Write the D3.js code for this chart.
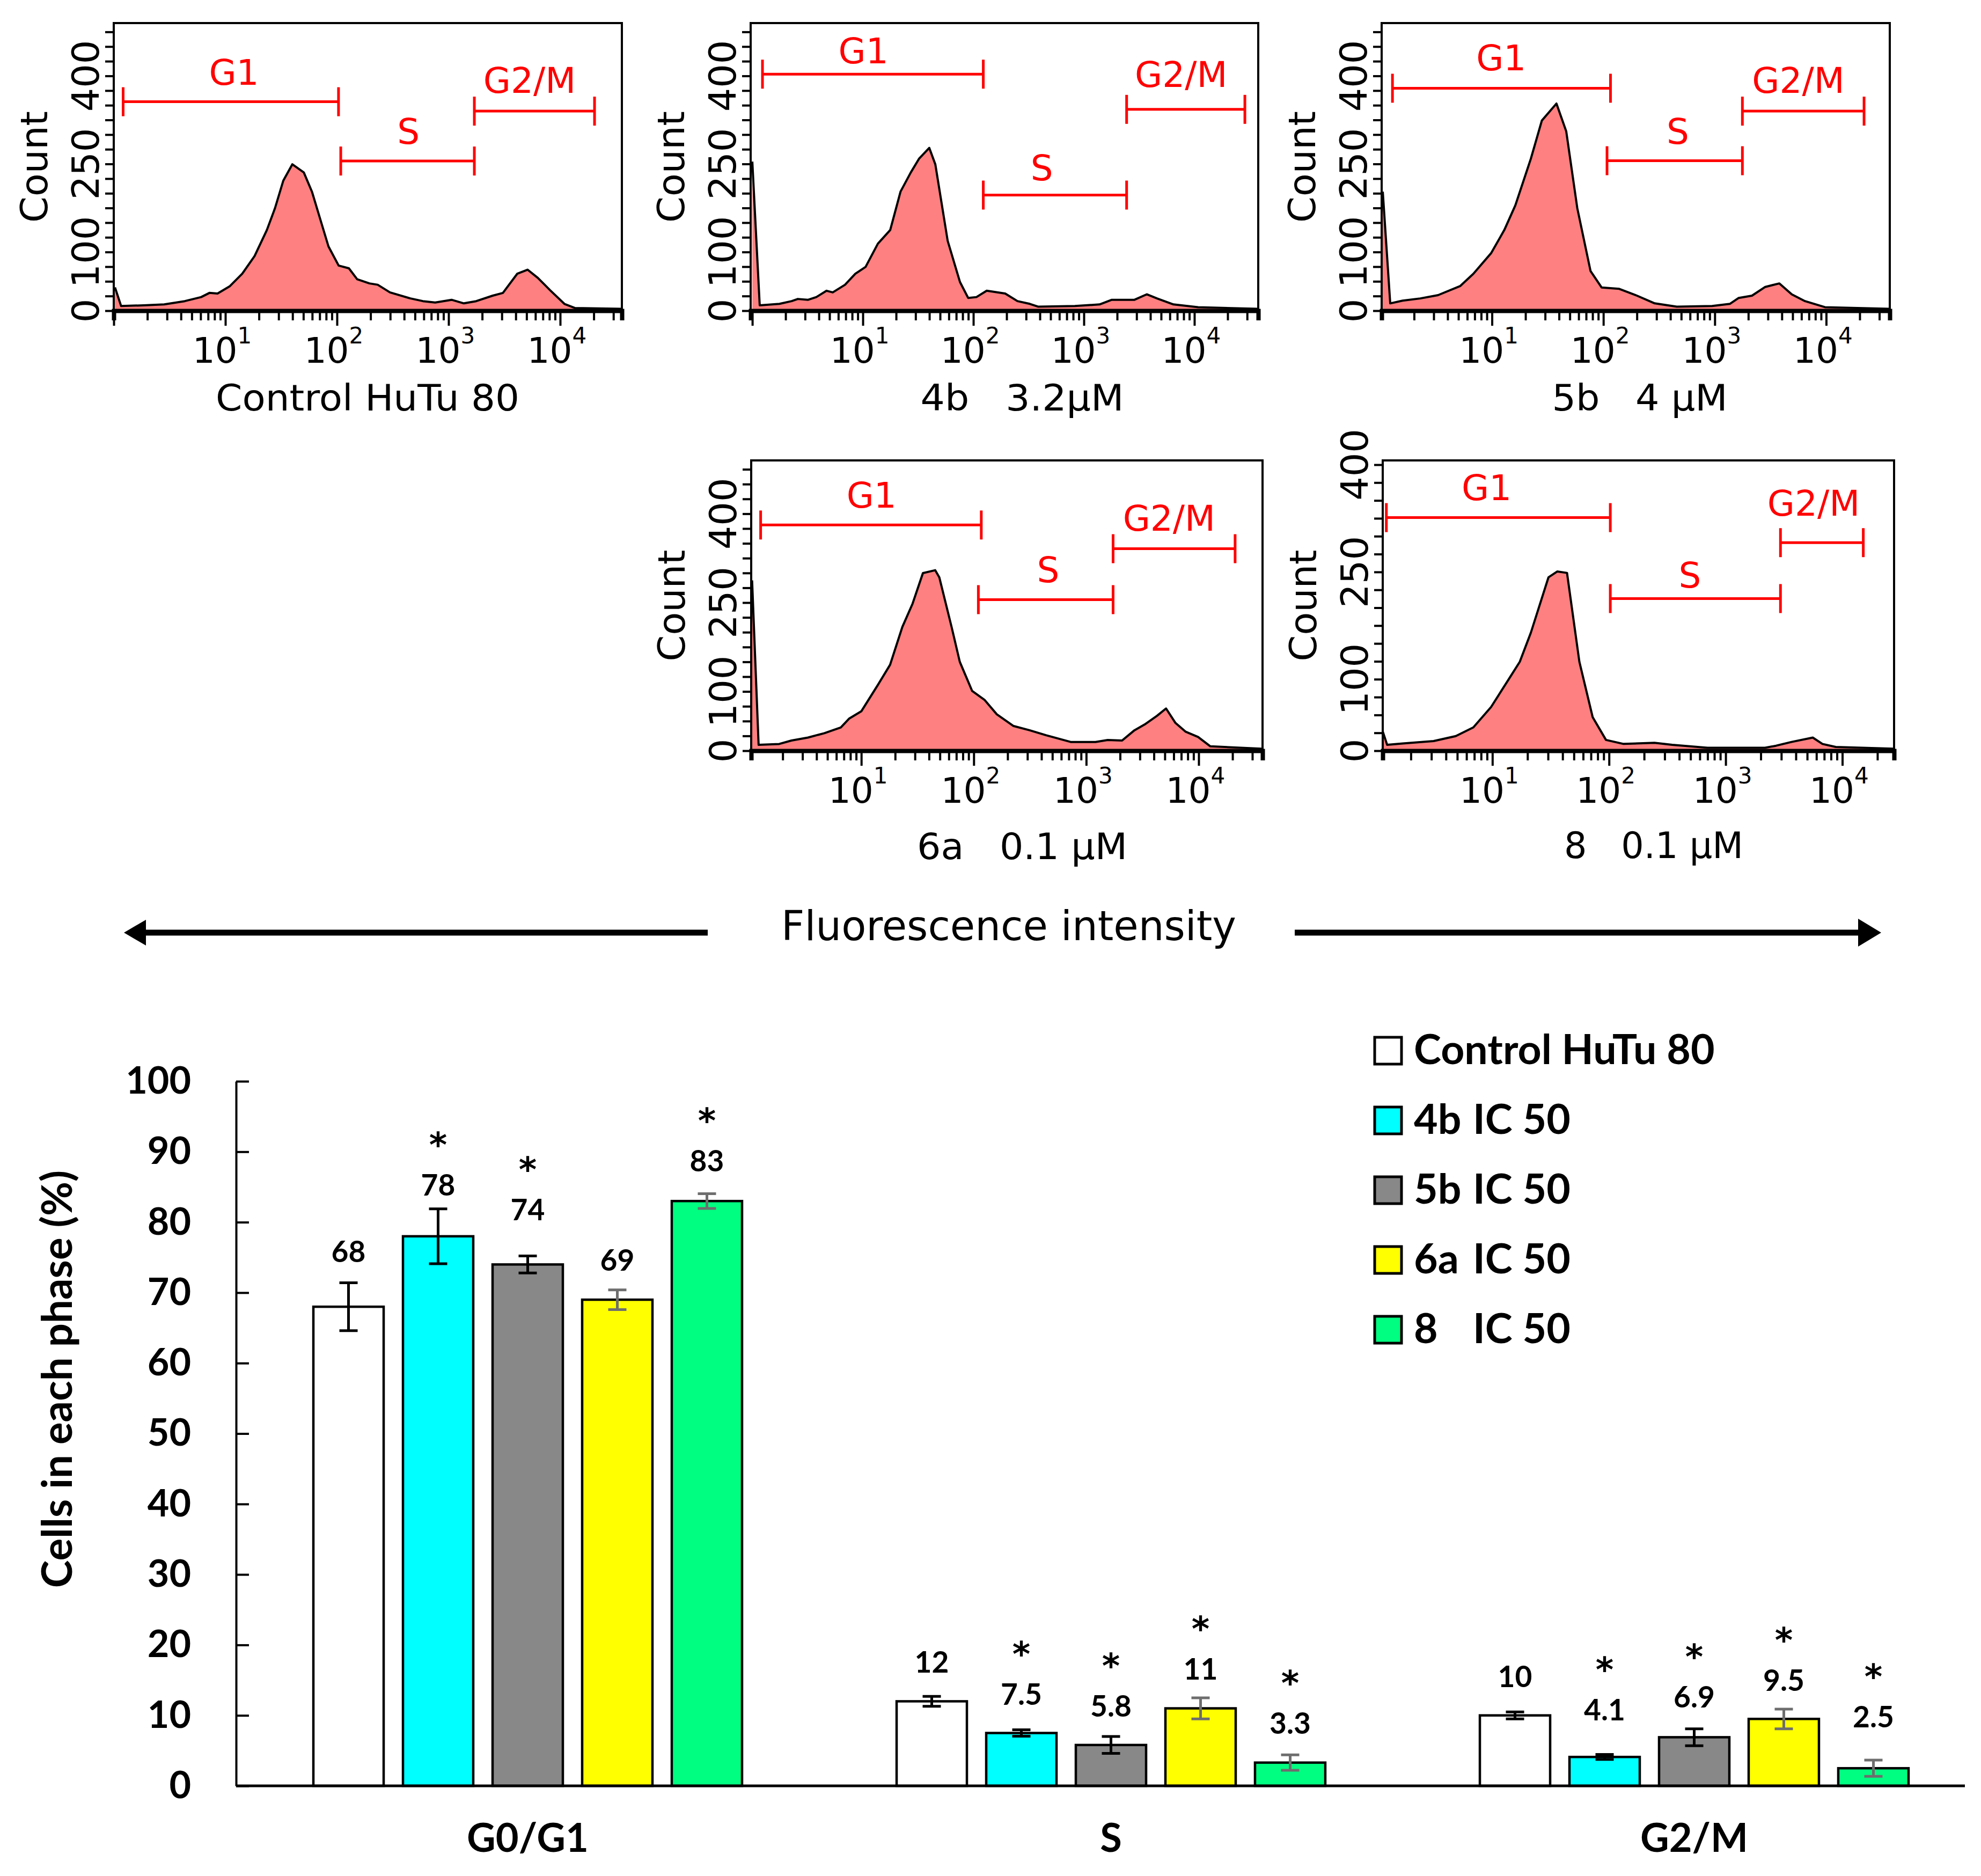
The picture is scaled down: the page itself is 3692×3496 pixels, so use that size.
<!DOCTYPE html>
<html>
<head>
<meta charset="utf-8">
<script src="https://cdn.jsdelivr.net/npm/d3@7"></script>
<style>
  body { margin: 0; background: #fff; }
  svg { display: block; }
  text { white-space: pre; }
</style>
</head>
<body>
<svg id="chart"></svg>
<script>
// ---------------------------------------------------------------
// Flow cytometry histograms: [log10 intensity, count] per panel
// ---------------------------------------------------------------
var traceCtrl = [[0.011,39.6],[0.066,7.9],[0.268,9.2],[0.452,10.7],[0.636,16.3],[0.783,23.2],[0.857,30.3],
  [0.930,29.3],[1.041,41.9],[1.151,62.9],[1.262,93.2],[1.372,137.5],[1.445,174.8],[1.519,221.5],[1.600,249.4],
  [1.703,235.5],[1.776,202.8],[1.850,156.1],[1.924,109.5],[2.015,76.9],[2.107,72.2],[2.181,53.6],[2.291,46.5],
  [2.365,44.2],[2.475,31.2],[2.659,20.9],[2.770,16.3],[2.880,13.9],[3.027,18.6],[3.137,12.5],[3.248,16.3],
  [3.395,25.6],[3.487,30.3],[3.615,62.9],[3.708,69.9],[3.800,55.9],[3.910,34.9],[4.038,11.6],[4.131,4.6],[4.553,3.2]];

var trace4b = [[0.000,254],[0.067,9.2],[0.245,11.6],[0.356,16.3],[0.412,20],[0.505,18.6],[0.579,23.2],[0.672,34],
  [0.728,31.2],[0.839,44.2],[0.932,62.9],[1.025,74.6],[1.136,114.2],[1.248,137.5],[1.341,202.8],[1.434,235.5],
  [1.508,258.8],[1.601,277.4],[1.656,249.4],[1.768,118.8],[1.879,48.9],[1.953,21.8],[2.028,23.2],[2.121,34],
  [2.288,29.3],[2.399,16.3],[2.511,11.6],[2.585,6.9],[2.919,7.9],[3.142,10.7],[3.253,18.6],[3.458,18.6],
  [3.569,27.9],[3.662,20.9],[3.811,10.7],[4.034,6],[4.578,3.2]];

var trace5b = [[0.020,202.8],[0.087,12.5],[0.198,17.2],[0.357,20.9],[0.516,26.5],[0.714,41.9],[0.833,62.9],
  [0.992,97.9],[1.111,137.5],[1.210,179.5],[1.349,258.8],[1.448,324],[1.579,352.9],[1.667,305.4],[1.766,174.8],
  [1.885,67.6],[1.984,39.6],[2.143,37.2],[2.302,25.6],[2.461,12.5],[2.659,6.9],[2.976,7.9],[3.135,11.6],
  [3.215,21.8],[3.334,25.6],[3.453,40.5],[3.580,46.5],[3.691,27.9],[3.810,16.3],[3.989,6],[4.571,3.2]];

var trace6a = [[0.029,287.6],[0.087,9.9],[0.270,11.4],[0.379,17.2],[0.525,22.2],[0.671,29.6],[0.818,39.3],
  [0.891,54.1],[1.000,66.5],[1.146,110.6],[1.256,145],[1.365,208.9],[1.456,248.2],[1.548,299.8],[1.657,304.7],
  [1.694,292.5],[1.803,208.9],[1.876,150],[1.986,100.8],[2.095,86],[2.205,61.5],[2.351,41.9],[2.497,34.5],
  [2.643,26.1],[2.862,14.8],[3.082,14.8],[3.191,18.2],[3.319,17.2],[3.429,34.5],[3.520,44.3],[3.630,59],
  [3.710,71.3],[3.794,46.8],[3.885,32],[3.995,23.2],[4.104,7.4],[4.561,3.5]];

var trace8 = [[0.061,26.5],[0.098,8.2],[0.231,10.2],[0.496,13.5],[0.686,20.5],[0.837,32.6],[0.989,61.2],
  [1.140,99.9],[1.235,124.4],[1.330,165.1],[1.481,242.5],[1.557,250.7],[1.640,248.7],[1.746,124.4],[1.860,46.9],
  [1.974,15.1],[2.125,9.5],[2.390,11.1],[2.542,8.2],[2.845,4.1],[3.337,4.1],[3.432,7],[3.565,12.3],[3.747,18.4],
  [3.830,9.5],[3.944,5.3],[4.444,2.9]];

// gates: [name, log10 start, log10 end, count level]
var gatesCtrl = [["G1",0.084,2.014,356],["S",2.034,3.231,255],["G2/M",3.231,4.308,340]];
var gates4b   = [["G1",0.092,2.090,403],["S",2.090,3.387,197],["G2/M",3.387,4.457,343]];
var gates5b   = [["G1",0.107,2.064,379],["S",2.033,3.248,255.5],["G2/M",3.248,4.340,340]];
var gates6a   = [["G1",0.105,2.067,381],["S",2.041,3.239,255],["G2/M",3.239,4.324,341]];
var gates8    = [["G1",0.091,2.011,326],["S",2.011,3.470,212.8],["G2/M",3.470,4.180,291]];

var panelTitles = ["Control HuTu 80", "4b   3.2\u00b5M", "5b   4 \u00b5M", "6a   0.1 \u00b5M", "8   0.1 \u00b5M"];
var countTicks = [0, 100, 250, 400];
var decades = [1, 2, 3, 4];

// ---------------------------------------------------------------
// Bar chart: % of cells in each phase
// ---------------------------------------------------------------
var phases = ["G0/G1", "S", "G2/M"];
var groups = ["Control HuTu 80", "4b", "5b", "6a", "8"];
var meanCtrl = [68, 12, 10],   sdCtrl = [3.4, 0.7, 0.5];
var mean4b   = [78, 7.5, 4.1], sd4b   = [3.9, 0.45, 0.35];
var mean5b   = [74, 5.8, 6.9], sd5b   = [1.2, 1.2, 1.2];
var mean6a   = [69, 11, 9.5],  sd6a   = [1.4, 1.5, 1.4];
var mean8    = [83, 3.3, 2.5], sd8    = [1.05, 1.1, 1.15];
var sigCtrl = [0, 0, 0], sig4b = [1, 1, 1], sig5b = [1, 1, 1], sig6a = [0, 1, 1], sig8 = [1, 1, 1];
var yTicks = [0, 10, 20, 30, 40, 50, 60, 70, 80, 90, 100];

// ---------------------------------------------------------------
// Layout (positions / styles only)
// ---------------------------------------------------------------
var W = 3692, H = 3496;
var histFont = "'DejaVu Sans', Verdana, sans-serif";
var barFont = "Lato, 'Open Sans', sans-serif";

var panelBox = [
  {x0: 212,  x1: 1159, y0: 43,  y1: 579,  lx: [0.000, 4.553], ymax: 490, tx: 685,  ty: 765,  tw: 566},
  {x0: 1399, x1: 2345, y0: 43,  y1: 579,  lx: [-0.015, 4.578], ymax: 490, tx: 1905, ty: 765,  tw: 379},
  {x0: 2575, x1: 3522, y0: 43,  y1: 579,  lx: [0.010, 4.571], ymax: 490, tx: 3056, ty: 765,  tw: 327},
  {x0: 1400, x1: 2353, y0: 858, y1: 1399, lx: [0.021, 4.568], ymax: 490, tx: 1905, ty: 1601, tw: 392},
  {x0: 2577, x1: 3530, y0: 858, y1: 1399, lx: [0.060, 4.444], ymax: 406, tx: 3082, ty: 1599, tw: 334}
];
// where each gate name sits: [log10 x, count]
var gateLabelAt = [
  [[1.077, 385], [2.64, 284], [3.726, 371]],
  [[1.005, 421], [2.62, 222], [3.88, 381]],
  [[1.083, 410], [2.668, 284], [3.75, 371]],
  [[1.091, 410.5], [2.662, 284.5], [3.737, 371]],
  [[0.951, 350.5], [2.693, 228], [3.754, 329]]
];
// value label baseline / star centre, in % units
var valueLabelAt = [[74.3, 16.1, 14.0], [83.8, 11.5, 9.3], [80.3, 9.8, 11.1], [73.1, 15.1, 13.5], [87.2, 7.4, 8.3]];
var starAt = [[0, 0, 0], [90.9, 19.4, 17.2], [88.0, 18.1, 18.9], [0, 22.2, 21.3], [94.4, 15.6, 15.5]];
var barColors = ["#ffffff", "#00ffff", "#888888", "#ffff00", "#00ff80"];
var errColors = ["#000000", "#000000", "#000000", "#6e6e6e", "#6e6e6e"];
var starSize = 64, valueSize = 55;

var traces = [traceCtrl, trace4b, trace5b, trace6a, trace8];
var gates = [gatesCtrl, gates4b, gates5b, gates6a, gates8];

var svg = d3.select("#chart").attr("width", W).attr("height", H);
svg.append("rect").attr("width", W).attr("height", H).attr("fill", "#fff");

function pow10(v) { return Math.pow(10, v); }

// Draw one histogram panel with its gates and axes
function drawHistogram(i) {
  var b = panelBox[i];
  var x = d3.scaleLog().domain([pow10(b.lx[0]), pow10(b.lx[1])]).range([b.x0, b.x1]);
  var y = d3.scaleLinear().domain([0, b.ymax]).range([b.y1, b.y0]);
  var g = svg.append("g");

  var pts = traces[i].map(function(d) { return [pow10(d[0]), d[1]]; });
  g.append("path").datum(pts)
    .attr("d", d3.area().x(function(d) { return x(d[0]); }).y0(y(0)).y1(function(d) { return y(d[1]); }))
    .attr("fill", "#ff8080");
  g.append("path").datum(pts)
    .attr("d", d3.line().x(function(d) { return x(d[0]); }).y(function(d) { return y(d[1]); }))
    .attr("fill", "none").attr("stroke", "#000").attr("stroke-width", 4).attr("stroke-linejoin", "round");

  // frame
  g.append("rect").attr("x", b.x0).attr("y", b.y0)
    .attr("width", b.x1 - b.x0).attr("height", b.y1 - b.y0)
    .attr("fill", "none").attr("stroke", "#000").attr("stroke-width", 4);

  // log x axis: minor ticks 2..9, longer at decades
  var xt = [];
  for (var e = 0; e < 5; e++) {
    for (var k = 1; k < 10; k++) {
      var v = k * pow10(e);
      if (v >= x.domain()[0] && v <= x.domain()[1]) xt.push(v);
    }
  }
  var xg = g.append("g").attr("transform", "translate(0," + b.y1 + ")")
    .call(d3.axisBottom(x).tickValues(xt).tickFormat("").tickSizeOuter(0).tickSize(18));
  xg.select(".domain").attr("stroke-width", 8);
  xg.selectAll(".tick line").attr("stroke-width", 4)
    .attr("y2", function(d) { return Math.abs(Math.log10(d) % 1) < 1e-9 ? 28 : 18; });

  decades.forEach(function(dc) {
    var t = g.append("text").attr("x", x(pow10(dc)) - 6).attr("y", b.y1 + 97)
      .attr("text-anchor", "middle").attr("font-family", histFont).attr("font-size", 66);
    t.append("tspan").text("10");
    t.append("tspan").attr("dy", -36).attr("font-size", 42).text(dc);
  });

  // count axis
  var yg = g.append("g").attr("transform", "translate(" + b.x0 + ",0)")
    .call(d3.axisLeft(y).tickValues(d3.range(0, b.ymax - 5, 25)).tickFormat("").tickSizeOuter(0).tickSize(16));
  yg.select(".domain").remove();
  yg.selectAll(".tick line").attr("stroke-width", 4);

  countTicks.forEach(function(c) {
    g.append("text")
      .attr("transform", "translate(" + (b.x0 - 52) + "," + y(c) + ") rotate(-90)")
      .attr("text-anchor", "middle").attr("dominant-baseline", "central")
      .attr("font-family", histFont).attr("font-size", 70).text(c);
  });

  g.append("text")
    .attr("transform", "translate(" + (b.x0 - 148) + "," + ((b.y0 + b.y1) / 2) + ") rotate(-90)")
    .attr("text-anchor", "middle").attr("dominant-baseline", "central")
    .attr("font-family", histFont).attr("font-size", 70).text("Count");

  // gates
  gates[i].forEach(function(gt, gi) {
    var gx0 = x(pow10(gt[1])), gx1 = x(pow10(gt[2])), gy = y(gt[3]);
    var red = "#ff0000";
    g.append("line").attr("x1", gx0).attr("x2", gx1).attr("y1", gy).attr("y2", gy)
      .attr("stroke", red).attr("stroke-width", 5);
    [gx0, gx1].forEach(function(cx) {
      g.append("line").attr("x1", cx).attr("x2", cx).attr("y1", gy - 27).attr("y2", gy + 27)
        .attr("stroke", red).attr("stroke-width", 5);
    });
    var la = gateLabelAt[i][gi];
    g.append("text").attr("x", x(pow10(la[0]))).attr("y", y(la[1]))
      .attr("text-anchor", "middle").attr("fill", red)
      .attr("font-family", histFont).attr("font-size", 66).text(gt[0]);
  });

  // panel caption
  g.append("text").attr("x", b.tx).attr("y", b.ty)
    .attr("xml:space", "preserve")
    .attr("text-anchor", "middle").attr("font-family", histFont).attr("font-size", 68)
    .attr("textLength", b.tw).attr("lengthAdjust", "spacingAndGlyphs")
    .text(panelTitles[i]);
}

for (var p = 0; p < panelBox.length; p++) { drawHistogram(p); }

// "Fluorescence intensity" with arrows either side
var arrowY = 1738;
svg.append("text").attr("x", 1880).attr("y", 1752)
  .attr("text-anchor", "middle").attr("font-family", histFont).attr("font-size", 76)
  .attr("textLength", 848).attr("lengthAdjust", "spacingAndGlyphs")
  .text("Fluorescence intensity");
svg.append("line").attr("x1", 268).attr("x2", 1319).attr("y1", arrowY).attr("y2", arrowY)
  .attr("stroke", "#000").attr("stroke-width", 11);
svg.append("path").attr("d", "M231," + arrowY + "L272," + (arrowY - 24) + "L272," + (arrowY + 24) + "Z").attr("fill", "#000");
svg.append("line").attr("x1", 2413).attr("x2", 3465).attr("y1", arrowY).attr("y2", arrowY)
  .attr("stroke", "#000").attr("stroke-width", 11);
svg.append("path").attr("d", "M3506," + arrowY + "L3463," + (arrowY - 26) + "L3463," + (arrowY + 26) + "Z").attr("fill", "#000");

// ---------------------------------------------------------------
// Bar chart
// ---------------------------------------------------------------
var means = [meanCtrl, mean4b, mean5b, mean6a, mean8];
var sds = [sdCtrl, sd4b, sd5b, sd6a, sd8];
var sigs = [sigCtrl, sig4b, sig5b, sig6a, sig8];

var barData = [];
phases.forEach(function(ph, pi) {
  groups.forEach(function(gr, gi) {
    barData.push({phase: ph, s: gi, v: means[gi][pi], e: sds[gi][pi], sig: sigs[gi][pi],
                  lab: valueLabelAt[gi][pi], star: starAt[gi][pi]});
  });
});

var yBar = d3.scaleLinear().domain([0, 100]).range([3328, 2015]);
var xPhase = d3.scaleBand().domain(phases).range([440, 3701]);
var xGroup = d3.scaleBand().domain(d3.range(groups.length)).range([126, 961])
  .paddingInner(0.2156).paddingOuter(0.108);

var bars = svg.append("g");
bars.selectAll("rect").data(barData).enter().append("rect")
  .attr("x", function(d) { return xPhase(d.phase) + xGroup(d.s); })
  .attr("y", function(d) { return yBar(d.v); })
  .attr("width", xGroup.bandwidth())
  .attr("height", function(d) { return yBar(0) - yBar(d.v); })
  .attr("fill", function(d) { return barColors[d.s]; })
  .attr("stroke", "#000").attr("stroke-width", 4.5);

// error bars, value labels and significance stars
barData.forEach(function(d) {
  var cx = xPhase(d.phase) + xGroup(d.s) + xGroup.bandwidth() / 2;
  var col = errColors[d.s];
  bars.append("line").attr("x1", cx).attr("x2", cx)
    .attr("y1", yBar(d.v - d.e)).attr("y2", yBar(d.v + d.e))
    .attr("stroke", col).attr("stroke-width", 5);
  [d.v - d.e, d.v + d.e].forEach(function(ev) {
    bars.append("line").attr("x1", cx - 17).attr("x2", cx + 17)
      .attr("y1", yBar(ev)).attr("y2", yBar(ev))
      .attr("stroke", col).attr("stroke-width", 5);
  });
  var labY = yBar(d.lab);
  bars.append("text").attr("x", cx).attr("y", labY).attr("text-anchor", "middle")
    .attr("font-family", barFont).attr("font-weight", "bold").attr("font-size", valueSize)
    .text(String(d.v));
  if (d.sig) {
    // keep the star's box clear of the value label just below it
    var starY = Math.min(yBar(d.star) + 0.58 * starSize, labY - 0.99 * valueSize - 0.24 * starSize - 2);
    bars.append("text").attr("x", cx).attr("y", starY).attr("text-anchor", "middle")
      .attr("font-family", histFont).attr("font-weight", "bold").attr("font-size", starSize)
      .text("*");
  }
});

// axes
var yAx = svg.append("g").attr("transform", "translate(440,0)")
  .call(d3.axisLeft(yBar).tickValues(yTicks).tickSizeInner(-24).tickSizeOuter(0).tickPadding(84));
yAx.select(".domain").attr("stroke-width", 4);
yAx.selectAll(".tick line").attr("stroke-width", 4);
yAx.selectAll(".tick text").attr("font-family", barFont).attr("font-weight", "bold").attr("font-size", 70);

var xAx = svg.append("g").attr("transform", "translate(0,3328)")
  .call(d3.axisBottom(xPhase).tickSize(0).tickSizeOuter(0).tickPadding(70));
xAx.select(".domain").attr("stroke-width", 5).attr("d", "M440,0H3662");
xAx.selectAll(".tick text").attr("font-family", barFont).attr("font-weight", "bold").attr("font-size", 74);

svg.append("text")
  .attr("transform", "translate(134,2570) rotate(-90)")
  .attr("text-anchor", "middle").attr("font-family", barFont).attr("font-weight", "bold")
  .attr("font-size", 78).text("Cells in each phase (%)");

// legend
var legend = svg.append("g");
groups.forEach(function(gr, gi) {
  var ly = 1933 + gi * 130;
  legend.append("rect").attr("x", 2562).attr("y", ly).attr("width", 50).attr("height", 50)
    .attr("fill", barColors[gi]).attr("stroke", "#000").attr("stroke-width", 5);
  var t = legend.append("text").attr("x", 2635).attr("y", ly + 50)
    .attr("font-family", barFont).attr("font-weight", "bold").attr("font-size", 77);
  t.append("tspan").text(gr);
  if (gi > 0) { t.append("tspan").attr("x", 2745).text("IC 50"); }
});
</script>
</body>
</html>
